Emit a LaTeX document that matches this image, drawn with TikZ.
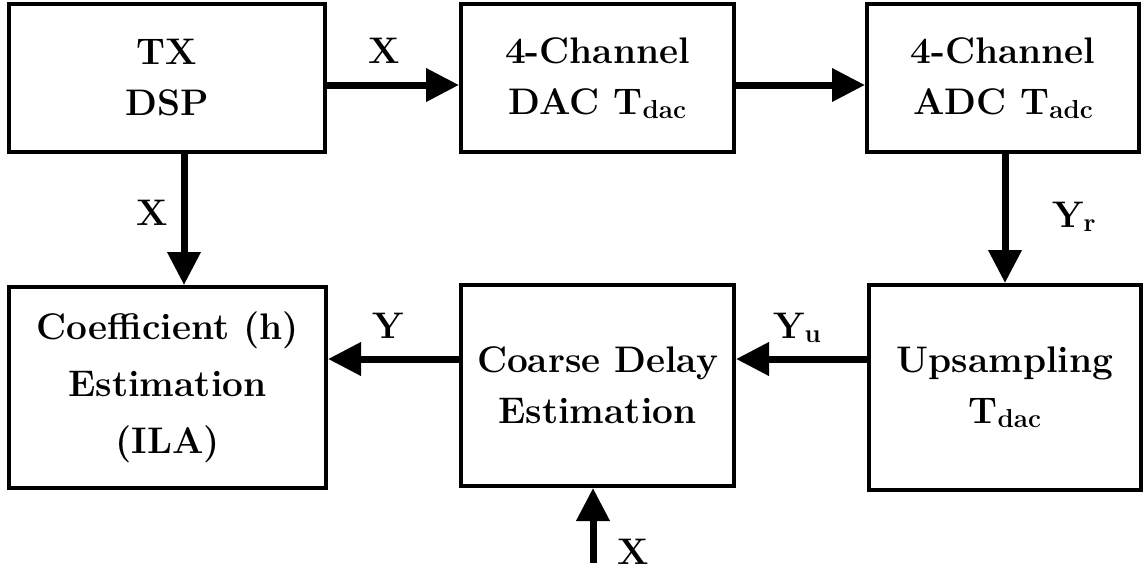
\documentclass[tikz,border=0pt]{standalone}
\usetikzlibrary{arrows.meta}

% lowered, smaller subscript text
\newcommand{\lowsub}[1]{\raisebox{-0.12em}{\fontsize{26}{26}\selectfont #1}}

\tikzset{
  block/.style={draw=black, line width=4pt, rectangle, align=center,
    inner sep=0pt, font=\fontsize{37}{51}\selectfont\bfseries},
  flow/.style={line width=7pt, -{Triangle[length=33pt,width=32pt]}},
  sig/.style={font=\fontsize{37}{51}\selectfont\bfseries, inner sep=0pt}
}

\begin{document}
\begin{tikzpicture}[x=1pt, y=-1pt]
  \useasboundingbox (0,0) rectangle (1144,576);

  % top row
  \node[block, minimum width=316pt, minimum height=148pt] (tx)  at (167,78)   {TX\\DSP};
  \node[block, minimum width=273pt, minimum height=148pt] (dac) at (597.5,78) {4-Channel\\DAC T\lowsub{dac}};
  \node[block, minimum width=272pt, minimum height=148pt] (adc) at (1003,78)  {4-Channel\\ADC T\lowsub{adc}};

  % bottom row
  \node[block, minimum width=317pt, minimum height=201pt,
        font=\fontsize{37}{57}\selectfont\bfseries] (coef) at (167.5,387.5) {Coefficient (h)\\Estimation\\(ILA)};
  \node[block, minimum width=273pt, minimum height=201pt] (coarse) at (597.5,385.5) {Coarse Delay\\Estimation};
  \node[block, minimum width=272pt, minimum height=205pt] (ups) at (1005,387.5) {Upsampling\\T\lowsub{dac}};

  % reference lines for the connectors
  \coordinate (rowA) at (0,85);
  \coordinate (colA) at (184,0);
  \coordinate (colB) at (1005,0);
  \coordinate (rowB) at (0,359);
  \coordinate (colC) at (593,0);
  \coordinate (xin) at (593,563);

  % connectors
  \draw[flow] (tx.east |- rowA) -- (dac.west |- rowA);
  \draw[flow] (dac.east |- rowA) -- (adc.west |- rowA);
  \draw[flow] (tx.south -| colA) -- (coef.north -| colA);
  \draw[flow] (adc.south -| colB) -- (ups.north -| colB);
  \draw[flow] (ups.west |- rowB) -- (coarse.east |- rowB);
  \draw[flow] (coarse.west |- rowB) -- (coef.east |- rowB);
  \draw[flow] (xin) -- (coarse.south -| colC);

  % signal labels
  \node[sig] (lx1) at (384.5,51) {X};
  \node[sig] (lx2) at (152,213) {X};
  \node[sig, anchor=base west] (lyr) at (1052,227) {Y\lowsub{r}};
  \node[sig, anchor=base west] (lyu) at (773,338) {Y\lowsub{u}};
  \node[sig] (ly) at (388,326) {Y};
  \node[sig] (lx3) at (633,552) {X};
\end{tikzpicture}
\end{document}
